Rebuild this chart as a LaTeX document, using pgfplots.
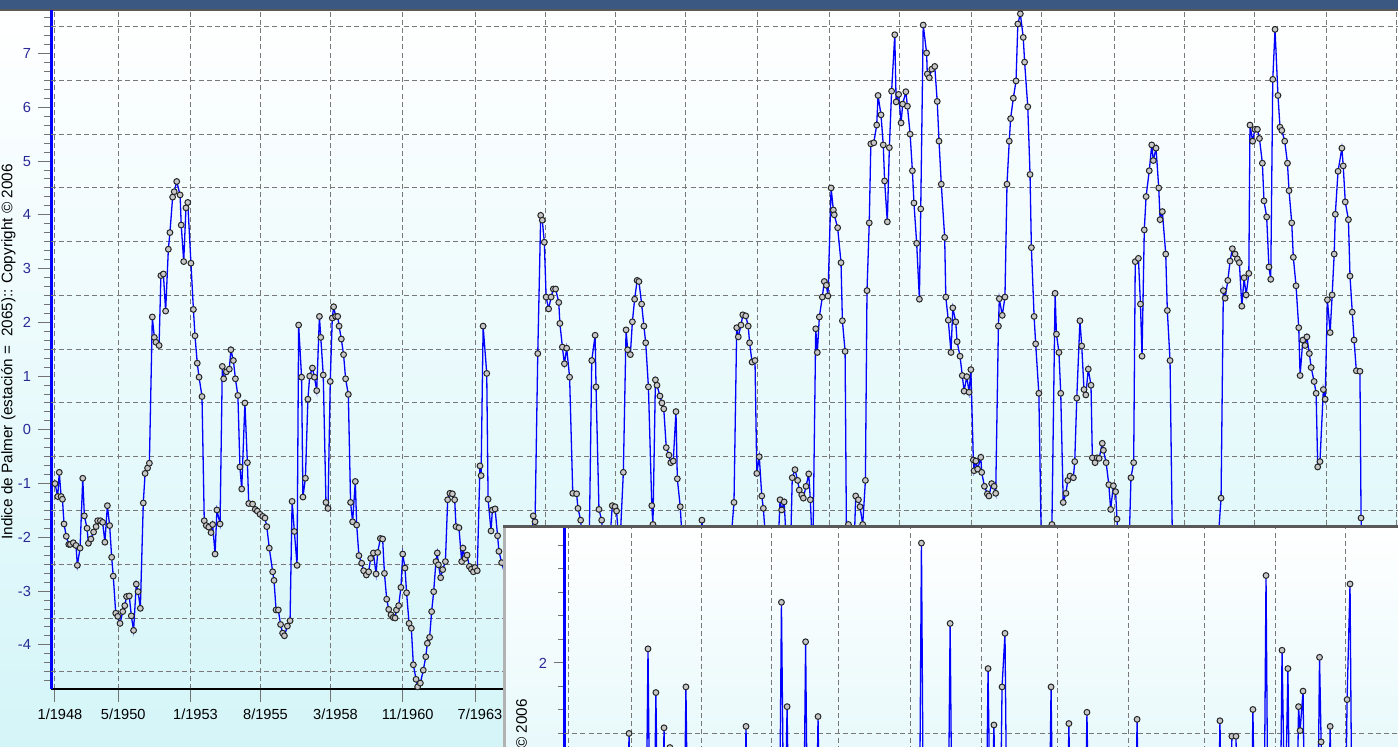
\documentclass[border=0pt]{standalone}
\usepackage{pgfplots}
\usepackage{pgfplotstable}
\pgfplotsset{compat=1.18}
\usepackage{fontspec}
\setmainfont{Liberation Sans}
\definecolor{navy}{RGB}{40,40,150}
\definecolor{gridgray}{RGB}{120,120,120}
\definecolor{bgcyan}{RGB}{212,245,248}
\definecolor{insetcyan}{RGB}{232,249,251}
\definecolor{titleblue}{RGB}{58,88,130}
\definecolor{mkfill}{RGB}{200,200,200}

\pgfplotstableread{
m v
0.0 -1.00
1.2 -1.24
1.9 -0.79
2.7 -1.24
3.3 -1.29
4.0 -1.75
5.0 -1.98
6.1 -2.13
6.8 -2.13
8.1 -2.10
9.3 -2.15
9.9 -2.52
11.1 -2.20
12.3 -0.90
13.0 -1.60
14.2 -1.83
14.8 -2.11
15.9 -2.03
17.1 -1.90
18.2 -1.80
18.9 -1.69
20.1 -1.69
21.1 -1.72
22.1 -2.09
23.2 -1.41
24.2 -1.78
25.1 -2.37
25.8 -2.72
26.9 -3.41
27.8 -3.47
28.8 -3.60
30.0 -3.38
30.9 -3.27
31.7 -3.10
32.9 -3.09
33.8 -3.46
34.8 -3.73
36.0 -2.87
36.8 -3.01
37.8 -3.32
39.1 -1.36
39.9 -0.81
41.0 -0.71
41.8 -0.62
43.1 2.10
44.0 1.72
44.7 1.63
46.1 1.57
46.9 2.87
48.0 2.90
49.0 2.21
50.2 3.36
50.9 3.67
52.1 4.33
52.8 4.43
53.9 4.62
55.4 4.37
55.9 3.81
57.0 3.13
58.0 4.13
58.8 4.23
60.2 3.10
61.3 2.24
62.0 1.75
63.0 1.24
63.8 0.98
65.1 0.62
66.1 -1.69
67.0 -1.78
68.1 -1.81
69.1 -1.91
69.8 -1.76
70.9 -2.31
71.7 -1.49
73.1 -1.75
74.1 1.18
74.7 0.95
75.9 1.08
77.2 1.13
77.9 1.49
79.0 1.29
79.9 0.95
81.0 0.64
81.9 -0.69
82.7 -1.10
84.1 0.50
85.2 -0.61
85.8 -1.37
87.5 -1.38
88.7 -1.48
89.6 -1.51
90.8 -1.57
92.0 -1.61
93.0 -1.64
93.8 -1.80
94.9 -2.20
96.4 -2.64
97.0 -2.80
97.9 -3.35
98.9 -3.35
99.9 -3.62
100.8 -3.78
101.6 -3.83
102.9 -3.65
104.1 -3.55
105.0 -1.33
106.0 -1.89
107.2 -2.52
107.9 1.95
109.2 0.98
109.8 -1.25
110.9 -0.90
112.0 0.57
112.8 1.00
114.0 1.15
114.9 0.98
115.9 0.73
117.1 2.11
117.7 1.72
118.8 1.02
120.0 -1.35
120.9 -1.46
121.9 0.90
122.8 2.08
123.4 2.29
124.3 2.11
125.2 2.11
125.8 1.93
126.8 1.69
127.8 1.40
128.7 0.95
129.9 0.66
130.9 -1.35
131.8 -1.71
133.0 -0.96
133.6 -1.77
134.6 -2.34
135.8 -2.48
136.7 -2.62
137.9 -2.70
138.9 -2.64
139.8 -2.39
141.0 -2.29
142.2 -2.68
142.9 -2.28
144.1 -2.02
145.1 -2.03
145.9 -2.67
146.9 -3.15
147.8 -3.34
148.8 -3.44
149.8 -3.49
150.6 -3.50
151.2 -3.35
152.2 -3.27
153.2 -2.93
154.0 -2.31
155.0 -2.57
155.7 -3.03
156.8 -3.60
157.8 -3.69
158.7 -4.37
159.9 -4.64
160.6 -4.78
161.8 -4.71
163.1 -4.47
164.2 -4.22
164.9 -3.97
165.9 -3.86
166.8 -3.38
167.7 -3.01
168.7 -2.45
169.3 -2.29
169.8 -2.51
170.8 -2.75
171.7 -2.60
172.9 -2.45
173.9 -1.30
174.9 -1.18
176.0 -1.19
177.0 -1.30
177.6 -1.80
178.9 -1.82
180.1 -2.45
180.7 -2.20
181.6 -2.39
182.5 -2.33
183.5 -2.54
184.4 -2.59
185.3 -2.64
186.0 -2.56
187.0 -2.62
188.2 -0.67
188.7 -0.85
189.6 1.93
191.2 1.05
191.8 -1.29
193.1 -1.88
193.7 -1.49
194.9 -1.47
196.0 -1.97
196.6 -2.26
197.8 -2.47
200.0 -2.80
203.0 -3.10
206.0 -2.90
209.0 -2.60
211.0 -2.20
211.8 -1.60
212.6 -1.71
213.8 1.42
215.1 3.99
215.8 3.90
216.7 3.49
217.5 2.47
218.6 2.25
219.7 2.47
220.7 2.62
221.7 2.62
223.1 2.37
223.6 1.98
224.7 1.54
225.6 1.23
226.6 1.52
227.9 0.98
229.3 -1.18
231.0 -1.19
231.6 -1.46
232.8 -1.68
234.5 -2.60
236.5 -2.40
237.7 1.29
239.2 1.76
239.6 0.80
240.9 -1.48
242.1 -1.68
243.5 -2.50
245.5 -2.20
246.8 -1.41
248.0 -1.43
248.7 -1.51
250.0 -2.30
251.7 -0.79
252.9 1.86
253.6 1.49
254.8 1.40
255.7 2.01
256.7 2.43
257.8 2.78
258.6 2.76
259.8 2.34
260.8 1.93
261.6 1.62
262.8 0.80
264.3 -1.41
264.8 -1.76
265.9 0.93
266.6 0.83
267.9 0.63
268.8 0.50
269.6 0.39
270.7 -0.33
271.9 -0.47
272.7 -0.61
273.8 -0.58
275.0 0.34
275.6 -0.91
276.9 -1.43
278.5 -2.60
281.0 -3.10
284.0 -2.80
285.5 -2.30
286.5 -1.68
288.0 -2.50
291.0 -3.20
295.0 -3.00
298.5 -2.50
300.7 -1.35
301.9 1.90
302.6 1.73
303.8 1.95
304.6 2.14
305.9 2.12
307.0 1.93
307.6 1.62
308.7 1.26
310.0 1.29
310.8 -0.81
311.9 -0.50
313.0 -1.23
313.7 -1.46
315.5 -2.50
318.0 -2.90
320.2 -2.20
321.1 -1.30
321.8 -1.49
322.9 -1.34
324.3 -2.40
325.7 -2.30
326.5 -0.89
327.7 -0.74
328.9 -0.94
329.6 -1.12
330.7 -1.21
331.4 -1.27
332.6 -1.05
333.8 -0.82
334.5 -1.30
335.6 -2.40
336.9 1.88
337.6 1.44
338.5 2.10
339.8 2.47
340.7 2.76
341.6 2.69
342.3 2.49
343.7 4.50
344.7 4.09
345.1 4.00
346.6 3.76
348.1 3.11
348.7 2.03
349.9 1.46
350.6 -2.50
351.4 -1.76
352.6 -2.60
353.8 -2.30
354.6 -1.23
355.8 -1.30
356.5 -1.43
357.7 -1.76
358.9 -0.94
359.6 2.59
360.6 3.85
361.3 5.32
362.6 5.34
363.9 5.67
364.5 6.22
365.8 5.86
366.8 5.30
367.4 4.63
368.6 3.87
369.5 5.25
370.5 6.30
371.9 7.35
372.5 6.10
373.6 6.24
374.7 5.71
375.4 6.06
376.8 6.29
377.5 6.02
378.7 5.50
379.7 4.82
380.4 4.22
381.6 3.47
382.8 2.43
383.4 4.11
384.5 7.53
386.0 7.01
386.3 6.62
387.2 6.55
388.3 6.71
389.6 6.76
390.7 6.11
391.5 5.37
392.5 4.57
394.0 3.58
394.5 2.47
395.6 2.04
396.8 1.44
397.6 2.27
398.9 2.01
399.5 1.64
400.8 1.37
401.8 1.01
402.6 0.72
403.8 0.99
404.8 0.70
405.6 1.12
406.7 -0.56
407.0 -0.76
407.8 -0.58
408.6 -0.73
410.0 -0.51
410.4 -0.79
411.6 -1.05
412.9 -1.19
413.6 -1.23
414.8 -1.00
415.9 -1.05
416.6 -1.18
417.8 1.93
418.2 2.44
419.5 2.13
420.7 2.47
421.6 4.57
422.6 5.37
423.2 5.79
424.4 6.17
425.6 6.49
426.4 7.55
427.5 7.74
428.8 7.30
429.4 6.84
430.8 6.01
431.8 4.75
432.4 3.39
433.6 2.11
434.3 1.60
435.7 0.68
437.0 -2.60
439.5 -3.00
441.5 -1.76
442.9 2.54
443.5 1.78
444.6 1.44
445.4 0.68
446.5 -1.35
447.7 -1.18
448.5 -0.94
449.5 -0.86
451.0 -0.89
451.6 -0.59
452.5 0.59
453.9 2.03
454.7 1.56
455.7 0.75
456.5 0.65
457.6 1.13
458.8 0.83
459.4 -0.52
460.6 -0.61
461.5 -0.52
462.4 -0.53
463.8 -0.25
464.3 -0.38
465.5 -0.61
466.7 -1.02
467.5 -1.48
468.7 -1.04
469.7 -1.15
470.3 -1.66
471.5 -2.50
473.0 -2.90
474.5 -2.60
475.7 -2.10
476.5 -0.89
477.7 -0.61
478.4 3.13
479.8 3.19
480.7 2.34
481.4 1.37
482.4 3.72
483.2 4.34
484.6 4.82
485.7 5.30
486.4 5.01
487.6 5.24
488.8 4.50
489.4 3.91
490.4 4.06
491.9 3.27
492.6 2.22
493.8 1.29
495.0 -2.60
499.0 -3.40
503.0 -3.70
507.0 -3.50
511.0 -3.10
514.5 -2.40
516.4 -1.27
517.4 2.59
518.2 2.45
519.4 2.78
520.4 3.14
521.4 3.37
522.6 3.27
523.6 3.18
524.5 3.11
525.6 2.30
526.6 2.83
527.5 2.51
528.7 2.91
529.2 5.67
530.4 5.37
531.4 5.59
532.5 5.59
533.4 5.42
534.7 4.96
535.4 4.26
536.6 3.96
537.6 3.03
538.4 2.80
539.3 6.52
540.3 7.45
541.6 6.22
542.5 5.63
543.3 5.57
544.6 5.37
545.8 4.96
546.5 4.45
547.7 3.85
548.4 3.21
549.6 2.68
550.8 1.90
551.4 1.01
552.6 1.67
553.6 1.57
554.4 1.73
555.5 1.42
556.3 1.16
557.6 0.90
558.5 0.68
559.2 -0.69
560.2 -0.59
561.7 0.75
562.5 0.57
563.5 2.42
564.7 1.81
565.6 2.51
566.5 3.27
567.0 4.01
568.2 4.81
569.9 5.24
570.5 4.91
571.4 4.24
572.8 3.91
573.5 2.86
574.5 2.19
575.3 1.67
576.3 1.10
577.9 1.09
578.4 -1.64
579.5 -3.00
}\maindata

\pgfplotstableread{
x v
0.0 0.5
27.8 0.5
28.8 1.50
29.8 0.5
36.2 0.5
37.2 2.10
38.2 0.5
39.7 0.5
40.7 1.79
41.7 0.5
43.3 0.5
44.3 1.54
45.3 0.5
46.9 1.40
47.9 0.5
53.0 0.5
54.0 1.83
55.0 0.5
79.6 0.5
80.6 1.55
81.6 0.5
95.3 0.5
96.3 2.43
97.5 0.5
98.8 1.69
99.8 0.5
106.0 0.5
107.0 2.15
108.0 0.5
111.5 0.5
112.5 1.62
113.5 0.5
157.3 0.5
158.3 2.85
159.3 0.5
170.0 0.5
171.0 2.28
172.0 0.5
186.8 0.5
187.8 1.96
189.0 0.5
190.4 1.56
191.5 0.5
193.0 0.5
194.0 1.83
195.3 2.21
196.3 0.5
214.7 0.5
215.7 1.83
216.7 0.5
222.6 0.5
223.6 1.57
224.6 0.5
230.6 0.5
231.6 1.65
232.6 0.5
252.8 0.5
253.8 1.60
254.8 0.5
289.5 0.5
290.5 1.59
291.5 0.5
294.8 0.5
295.8 1.48
297.6 1.48
298.6 0.5
304.1 0.5
305.1 1.67
306.1 0.5
309.9 0.5
310.9 2.62
311.9 0.5
317.0 0.5
318.0 2.09
319.3 0.8
320.6 1.96
321.6 0.5
324.3 0.5
325.3 1.69
326.0 1.52
327.3 1.80
328.3 0.5
333.6 0.5
334.6 2.04
335.3 1.44
336.3 0.5
338.3 0.5
339.3 1.55
340.3 0.5
345.8 0.5
346.8 1.74
348.1 2.56
349.1 0.5
379.0 0.5
}\insetdata

\tikzset{lbl/.style={font=\fontsize{7.3}{8.5}\selectfont},
         ylbl/.style={font=\fontsize{7.65}{9}\selectfont}}
\pgfplotsset{
  serie/.style={blue, line width=0.65pt, mark=*, mark size=1.45pt,
    mark options={solid, fill=mkfill, draw=black!85, line width=0.5pt}},
}

\begin{document}
\begin{tikzpicture}
\useasboundingbox (0,0) rectangle (699pt,373.5pt);
\clip (0,0) rectangle (699pt,373.5pt);
\shade[top color=white, bottom color=bgcyan] (0,0) rectangle (699pt,369pt);
\fill[titleblue] (0,368.5pt) rectangle (699pt,373.5pt);
\draw[line width=1pt, black!65] (0,368.6pt) -- (699pt,368.6pt);

\begin{axis}[
  scale only axis, width=684.5pt, height=339.5pt,
  at={(25.5pt,29pt)}, anchor=south west,
  xmin=-1.77, xmax=604.5, ymin=-4.82, ymax=7.81,
  axis x line=bottom, axis y line=left, axis line style={-},
  x axis line style={black, line width=1pt},
  y axis line style={blue, line width=1.5pt},
  tick align=outside,
  major tick length=6.5pt, minor tick length=3.5pt,
  every tick/.style={black!55, line width=0.5pt},
  xtick={0,28,60,91,122,154,186,217,248,279,311,343,374,406,437,469,500,531,563,594},
  xticklabels={1/1948,5/1950,1/1953,8/1955,3/1958,11/1960,7/1963,{},{},{},{},{},{},{},{},{},{},{},{},{}},
  minor x tick num=3,
  ytick={-4,-3,-2,-1,0,1,2,3,4,5,6,7},
  yticklabels={-4,-3,-2,-1,0,1,2,3,4,5,6,7},
  minor ytick={-5,-4.833333,...,8},
  extra y ticks={-4.5,-3.5,-2.5,-1.5,-0.5,0.5,1.5,2.5,3.5,4.5,5.5,6.5,7.5},
  extra y tick labels={},
  extra y tick style={grid=major, major tick length=0pt},
  xmajorgrids,
  major grid style={gridgray, line width=0.5pt, dash pattern=on 2.5pt off 1.6pt},
  yticklabel style={lbl, navy},
  xticklabel style={lbl, black, xshift=2.5pt},
]
\addplot[serie] table[x=m, y=v] {\maindata};
\end{axis}

\node[ylbl, rotate=90, inner sep=0pt] at (4.2pt,197.5pt) {Indice de Palmer (estación =~~2065):: Copyright © 2006};

% inset window
\shade[top color=white, bottom color=insetcyan] (251.5pt,-1pt) rectangle (700pt,110.5pt);
\draw[gray!60, line width=1.2pt] (252.2pt,-1pt) -- (252.2pt,110pt);
\draw[black!65, line width=1.2pt] (251.5pt,110.2pt) -- (700pt,110.2pt);

\begin{axis}[
  scale only axis, width=428pt, height=136pt,
  at={(282pt,-26.5pt)}, anchor=south west,
  xmin=0, xmax=379.1, ymin=1.028, ymax=2.957,
  axis x line=bottom, axis y line=left, axis line style={-},
  x axis line style={black, line width=1pt},
  y axis line style={blue, line width=1.5pt},
  tick align=outside,
  major tick length=5pt, minor tick length=3pt,
  every tick/.style={black!55, line width=0.5pt},
  xtick={2.2,30.1,60.7,91.7,121.4,153.3,184.7,218.4,249.8,283.5,314.9,346.3},
  xticklabels={},
  ytick={2}, yticklabels={2},
  minor ytick={1,1.1666667,...,3},
  extra y ticks={1.5},
  extra y tick labels={},
  extra y tick style={grid=major, major tick length=0pt},
  xmajorgrids,
  major grid style={gridgray, line width=0.5pt, dash pattern=on 2.5pt off 1.6pt},
  yticklabel style={lbl, navy},
]
\addplot[serie] table[x=x, y=v] {\insetdata};
\end{axis}

\node[ylbl, rotate=90, inner sep=0pt, anchor=east] at (260.8pt,24pt) {© 2006};
\end{tikzpicture}
\end{document}
